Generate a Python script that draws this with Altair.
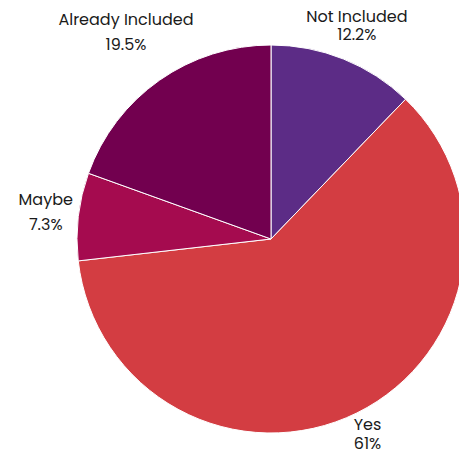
import altair as alt
import pandas as pd

categories = ["Not Included", "Yes", "Maybe", "Already Included"]
values = [12.2, 61.0, 7.3, 19.5]
pct_labels = ["12.2%", "61%", "7.3%", "19.5%"]
colors = ["#5C2C86", "#D33D42", "#A50B4F", "#72004F"]
edge_labels = ["Not Included", "Yes"]  # labels squeezed against the canvas edge

df = pd.DataFrame({
    "category": categories,
    "value": values,
    "pct": pct_labels,
    "idx": list(range(len(categories))),
})
df["label"] = df["category"] + "\n" + df["pct"]

CX, CY, R = 263, 231, 194

base = alt.Chart(df).transform_window(
    cum="sum(value)", sort=[alt.SortField("idx")], frame=[None, 0]
).transform_joinaggregate(
    total="sum(value)"
).transform_calculate(
    mid="(datum.cum - datum.value/2)/datum.total*2*PI",
    w="7.5*max(length(datum.category), length(datum.pct)) + 20",
)

pie = base.mark_arc(stroke="#ffffff", strokeWidth=1).encode(
    theta=alt.Theta("value:Q", stack=True),
    order=alt.Order("idx:Q"),
    color=alt.Color("category:N", scale=alt.Scale(domain=categories, range=colors), legend=None),
    x=alt.value(CX),
    y=alt.value(CY),
    radius=alt.value(R),
)


def label_layer(edge, lh, hh):
    test = alt.FieldOneOfPredicate(field="category", oneOf=edge_labels)
    flt = test if edge else alt.LogicalNotPredicate(**{"not": test})
    return base.transform_filter(flt).transform_calculate(
        lr=f"{R + 2} + datum.w/2*abs(sin(datum.mid)) + {hh}*abs(cos(datum.mid))"
    ).mark_text(
        font="Poppins, Inter, sans-serif",
        fontSize=16,
        color="#1a1a1a",
        align="center",
        baseline="middle",
        lineBreak="\n",
        lineHeight=lh,
        dy=-lh / 2,
    ).encode(
        theta=alt.Theta("mid:Q", scale=None, stack=None),
        radius=alt.Radius("lr:Q", scale=None),
        x=alt.value(CX),
        y=alt.value(CY),
        text="label:N",
    )


text_main = label_layer(False, 24.5, 19.5)
text_edge = label_layer(True, 18.5, 14)

chart = alt.layer(pie, text_main, text_edge).resolve_scale(theta="independent").properties(
    width=451,
    height=443,
    autosize=alt.AutoSizeParams(type="none"),
    padding=0,
).configure_view(stroke=None)

chart.save("out.html", embed_options={"renderer": "svg", "actions": False})
